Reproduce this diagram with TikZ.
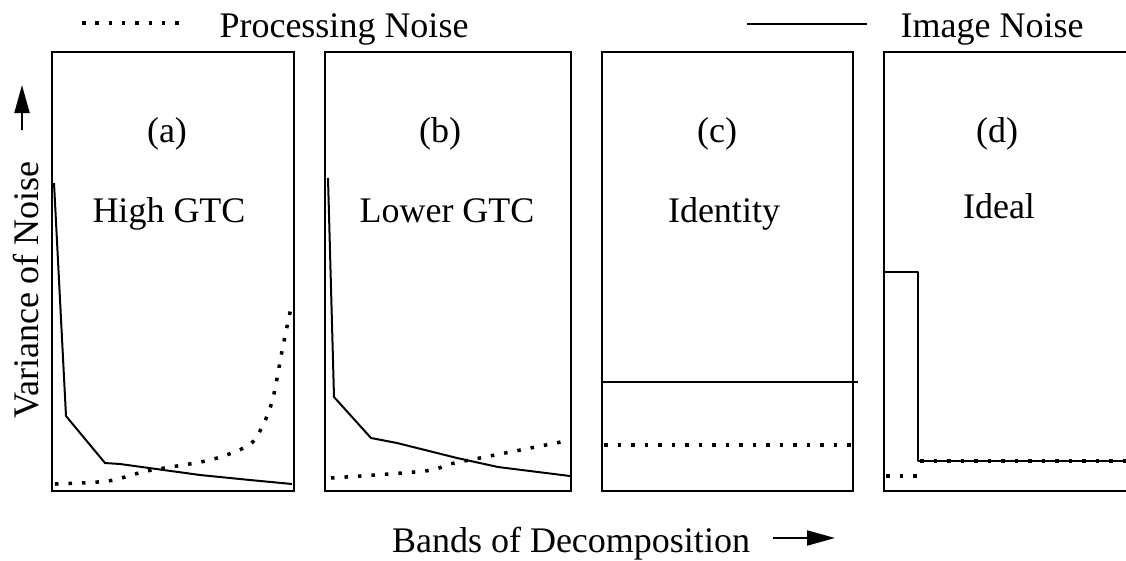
\documentclass[tikz,border=0pt]{standalone}
\usepackage{fontspec}
\setmainfont{Liberation Serif}
\usetikzlibrary{arrows.meta}
\tikzset{
  panel/.style={line width=2pt},
  solidcurve/.style={line width=2pt, line join=round},
  dotcurve/.style={line width=3.5pt, line cap=butt, dash pattern=on 3.5pt off 10pt},
  lbl/.style={font=\fontsize{36}{42}\selectfont, inner sep=0pt, anchor=base},
  axarrow/.style={line width=2pt, -{Triangle[length=28pt,width=15pt]}},
}
\begin{document}
\begin{tikzpicture}[x=1pt,y=-1pt]
\useasboundingbox (0,0) rectangle (1126,560);
% legend
\coordinate (pl1) at (82,23);
\coordinate (pl2) at (180,23);
\draw[dotcurve, dash pattern=on 3.5pt off 9.8pt] (pl1) -- (pl2);
\node[lbl] (pn) at (344,37) {Processing Noise};
\coordinate (il1) at (747,24);
\coordinate (il2) at (867,24);
\draw[solidcurve] (il1) -- (il2);
\node[lbl] (in) at (992,37) {Image Noise};
% panels
\draw[panel] (52,52) rectangle (294,491);
\draw[panel] (325,52) rectangle (571,491);
\draw[panel] (602,52) rectangle (853,491);
\draw[panel] (1130,52) -- (884,52) -- (884,491) -- (1130,491);
% labels
\node[lbl] (la) at (167,142) {(a)};
\node[lbl] (ta) at (169,222) {High GTC};
\node[lbl] (lb) at (440,142) {(b)};
\node[lbl] (tb) at (447,222) {Lower GTC};
\node[lbl] (lc) at (717,142) {(c)};
\node[lbl] (tc) at (724,222) {Identity};
\node[lbl] (ld) at (997,142) {(d)};
\node[lbl] (td) at (999,218) {Ideal};
% panel (a)
\draw[solidcurve] (54,183) -- (66,416) -- (105,463) -- (120,464) -- (200,475) -- (250,480) -- (292,484);
\draw[dotcurve] plot[smooth] coordinates {(55,484) (108,481) (147,471) (210,460) (249,445) (263,425) (273,398) (283,346) (292,303)};
% panel (b)
\draw[solidcurve] (328,178) -- (334,397) -- (371,438) -- (397,443) -- (457,458) -- (498,467) -- (570,476);
\draw[dotcurve] plot[smooth] coordinates {(331,478) (425,471) (450,464) (490,456) (571,440)};
% panel (c)
\draw[solidcurve] (602,382) -- (858,382);
\draw[dotcurve] (604,445) -- (856,445);
% panel (d)
\draw[solidcurve] (884,272) -- (918,272) -- (918,461) -- (1126,461);
\draw[dotcurve] (886,476) -- (921,476);
\draw[dotcurve] (920,461) -- (1126,461);
% axes labels
\node[lbl, rotate=90] (yl) at (38,290) {Variance of Noise};
\coordinate (ya1) at (22,130);
\coordinate (ya2) at (22,85);
\draw[axarrow] (ya1) -- (ya2);
\node[lbl] (xl) at (571,552) {Bands of Decomposition};
\coordinate (xa1) at (773,538);
\coordinate (xa2) at (835,538);
\draw[axarrow] (xa1) -- (xa2);
\end{tikzpicture}
\end{document}
